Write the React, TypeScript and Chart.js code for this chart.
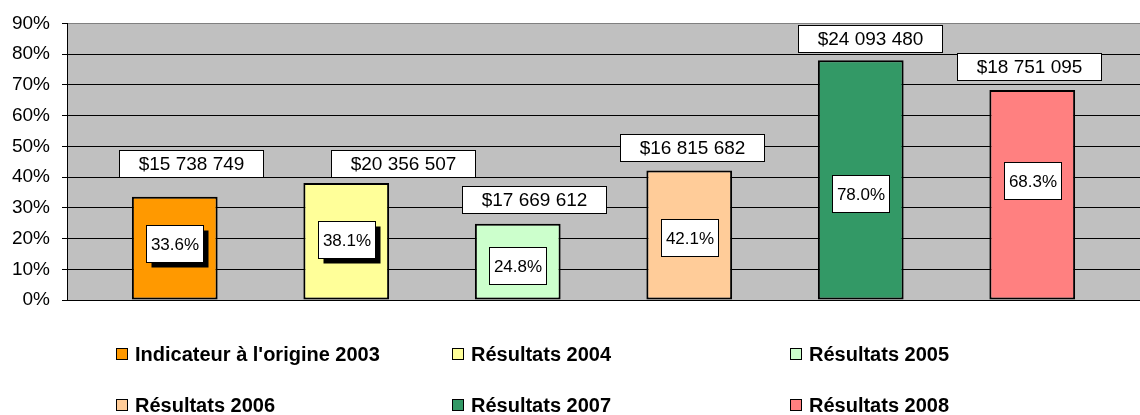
import React, { useEffect, useRef } from 'react';
import { Chart, registerables } from 'chart.js';

Chart.register(...registerables);

const categories = [''];
const seriesLabels = [
  "Indicateur à l'origine 2003",
  'Résultats 2004',
  'Résultats 2005',
  'Résultats 2006',
  'Résultats 2007',
  'Résultats 2008',
];
const seriesValues = [33.6, 38.1, 24.8, 42.1, 78.0, 68.3];
const amountLabels = ['$15 738 749', '$20 356 507', '$17 669 612', '$16 815 682', '$24 093 480', '$18 751 095'];
const seriesColors = ['#FF9900', '#FFFF99', '#CCFFCC', '#FFCC99', '#339966', '#FF8080'];
const yTickMax = 90;
const yTickStep = 10;

// label placement (value level on the y scale, horizontal pixel nudge)
const amountLabelLevel = [44.5, 44.5, 32.7, 49.5, 85.0, 75.9];
const amountLabelDx = [16, 57, 16, 3, 9, -3];
const pctLabelLevel = [18.5, 19.6, 11.3, 20.2, 34.6, 38.8];
const pctLabelShadow = [true, true, false, false, false, false];

const FONT = '"Liberation Sans", Arial, sans-serif';

const legendCols = [116, 452, 790];
const legendRows = [354, 405];

const plotBg = {
  id: 'plotBg',
  beforeDraw(chart: any) {
    const { ctx, chartArea } = chart;
    ctx.save();
    ctx.fillStyle = '#C0C0C0';
    ctx.fillRect(chartArea.left, chartArea.top, chartArea.right - chartArea.left, chartArea.bottom - chartArea.top);
    ctx.restore();
  },
};

function drawBox(ctx: any, cx: number, cy: number, w: number, h: number, text: string, font: string, shadow: boolean) {
  const x = Math.round(cx - w / 2) + 0.5;
  const y = Math.round(cy - h / 2) + 0.5;
  if (shadow) {
    ctx.fillStyle = '#000';
    ctx.fillRect(x + 5, y + 5, w, h);
  }
  ctx.fillStyle = '#fff';
  ctx.fillRect(x, y, w, h);
  ctx.strokeStyle = '#000';
  ctx.lineWidth = 1;
  ctx.strokeRect(x, y, w, h);
  ctx.fillStyle = '#000';
  ctx.font = font;
  ctx.textAlign = 'center';
  ctx.textBaseline = 'middle';
  ctx.fillText(text, x + w / 2, y + h / 2 + 1);
}

const labelsPlugin = {
  id: 'boxLabels',
  afterDatasetsDraw(chart: any) {
    const { ctx } = chart;
    const ys = chart.scales.y;
    ctx.save();
    seriesValues.forEach((v, i) => {
      const bar = chart.getDatasetMeta(i).data[0];
      if (!bar) return;
      const px = bar.x;
      drawBox(ctx, px, ys.getPixelForValue(pctLabelLevel[i]), 57, 37, v.toFixed(1) + '%', `17px ${FONT}`, pctLabelShadow[i]);
      drawBox(ctx, px + amountLabelDx[i], ys.getPixelForValue(amountLabelLevel[i]), 144, 27, amountLabels[i], `19px ${FONT}`, false);
    });
    ctx.restore();
  },
};

export default function App() {
  const ref = useRef<HTMLCanvasElement>(null);
  useEffect(() => {
    if (!ref.current) return;
    const chart = new Chart(ref.current, {
      type: 'bar',
      data: {
        labels: categories,
        datasets: seriesLabels.map((label, i) => ({
          label,
          data: [seriesValues[i]],
          backgroundColor: seriesColors[i],
          borderColor: '#000',
          borderWidth: 2,
          borderSkipped: false,
          categoryPercentage: 0.959,
          barPercentage: 0.5,
        })),
      },
      options: {
        responsive: false,
        animation: false,
        devicePixelRatio: 1,
        layout: { padding: { top: 22, bottom: 115, left: 0, right: 0 } },
        plugins: { legend: { display: false }, tooltip: { enabled: false } },
        scales: {
          x: { display: false },
          y: {
            min: 0,
            max: yTickMax,
            afterFit: (scale: any) => {
              scale.width = 67;
            },
            ticks: {
              stepSize: yTickStep,
              padding: 12,
              color: '#000',
              font: { family: FONT, size: 19 },
              callback: (v: any) => `${v}%`,
            },
            grid: {
              color: (c: any) => (c.tick && c.tick.value === yTickMax ? '#808080' : '#000'),
              tickColor: '#000',
              tickLength: 5,
              lineWidth: 1,
            },
            border: { display: true, color: '#000', width: 1 },
          },
        },
      },
      plugins: [plotBg, labelsPlugin],
    });
    return () => chart.destroy();
  }, []);

  return (
    <div style={{ position: 'absolute', left: 0, top: 0, width: 1140, height: 415, background: '#fff', overflow: 'hidden' }}>
      <canvas ref={ref} width={1140} height={415} style={{ display: 'block' }} />
      {seriesLabels.map((label, i) => {
        const col = i % 3;
        const row = Math.floor(i / 3);
        return (
          <div
            key={label}
            style={{
              position: 'absolute',
              left: legendCols[col],
              top: legendRows[row] - 12,
              height: 24,
              display: 'flex',
              alignItems: 'center',
              whiteSpace: 'nowrap',
              fontFamily: FONT,
              fontWeight: 'bold',
              fontSize: 20,
              color: '#000',
            }}
          >
            <span
              style={{
                display: 'inline-block',
                width: 10,
                height: 10,
                background: seriesColors[i],
                border: '1px solid #000',
                marginRight: 7,
              }}
            />
            <span>{label}</span>
          </div>
        );
      })}
    </div>
  );
}
